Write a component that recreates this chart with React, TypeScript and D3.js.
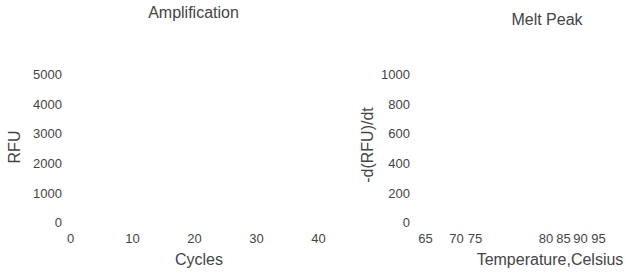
import { useEffect, useRef } from "react";
import * as d3 from "d3";

// tick values (both panels are empty)
const ampCycleTicks = [0, 10, 20, 30, 40];
const ampRfuTicks = [0, 1000, 2000, 3000, 4000, 5000];
const meltTempTicks = [65, 70, 75, 80, 85, 90, 95];
const meltPeakTicks = [0, 200, 400, 600, 800, 1000];

const WIDTH = 626;
const HEIGHT = 276;
const FONT = "'Liberation Sans', Arial, Helvetica, sans-serif";
const INK = "#444";

function App() {
  const svgRef = useRef<SVGSVGElement>(null);

  useEffect(() => {
    const svg = d3.select(svgRef.current);
    svg.selectAll("*").remove();

    const yTop = 74.5;
    const yBottom = 222.5;
    const fmt = d3.format("d");

    // ---- Amplification panel
    const ampX = d3.scaleLinear().domain([0, 40]).range([70, 318]);
    const ampY = d3.scaleLinear().domain([0, 5000]).range([yBottom, yTop]);

    // ---- Melt Peak panel (uneven tick spacing in the original)
    const meltX = d3
      .scaleLinear()
      .domain(meltTempTicks)
      .range([425, 456, 474.5, 545.5, 563, 580, 598]);
    const meltY = d3.scaleLinear().domain([0, 1000]).range([yBottom, yTop]);

    const styleAxis = (g: any) => {
      g.select(".domain").remove();
      g.selectAll("line").remove();
      g.selectAll("text")
        .attr("fill", INK)
        .style("font-size", "13px")
        .style("font-family", FONT);
    };

    svg
      .append("g")
      .attr("transform", `translate(70,0)`)
      .call(
        d3.axisLeft(ampY).tickValues(ampRfuTicks).tickFormat(fmt).tickSize(0).tickPadding(8)
      )
      .call(styleAxis);

    svg
      .append("g")
      .attr("transform", `translate(0,${yBottom})`)
      .call(
        d3
          .axisBottom(ampX)
          .tickValues(ampCycleTicks)
          .tickFormat(fmt)
          .tickSize(0)
          .tickPadding(11.5)
      )
      .call(styleAxis);

    svg
      .append("g")
      .attr("transform", `translate(418,0)`)
      .call(
        d3.axisLeft(meltY).tickValues(meltPeakTicks).tickFormat(fmt).tickSize(0).tickPadding(8)
      )
      .call(styleAxis);

    svg
      .append("g")
      .attr("transform", `translate(0,${yBottom})`)
      .call(
        d3
          .axisBottom(meltX)
          .tickValues(meltTempTicks)
          .tickFormat(fmt)
          .tickSize(0)
          .tickPadding(11.5)
      )
      .call(styleAxis);

    // titles and axis labels
    const label = (x: number, y: number, text: string, rotate = false) => {
      svg
        .append("text")
        .attr("x", rotate ? 0 : x)
        .attr("y", rotate ? 0 : y)
        .attr("transform", rotate ? `translate(${x},${y}) rotate(-90)` : null)
        .attr("text-anchor", "middle")
        .attr("fill", INK)
        .style("font-size", "16px")
        .style("font-family", FONT)
        .text(text);
    };

    label(193.5, 17.5, "Amplification");
    label(547, 25, "Melt Peak");
    label(199, 264.5, "Cycles");
    label(550, 264.5, "Temperature,Celsius");
    label(20, 147, "RFU", true);
    label(373, 145, "-d(RFU)/dt", true);
  }, []);

  return (
    <div style={{ position: "absolute", left: 0, top: 0 }}>
      <svg ref={svgRef} width={WIDTH} height={HEIGHT} style={{ display: "block", background: "#fff" }} />
    </div>
  );
}

export default App;
